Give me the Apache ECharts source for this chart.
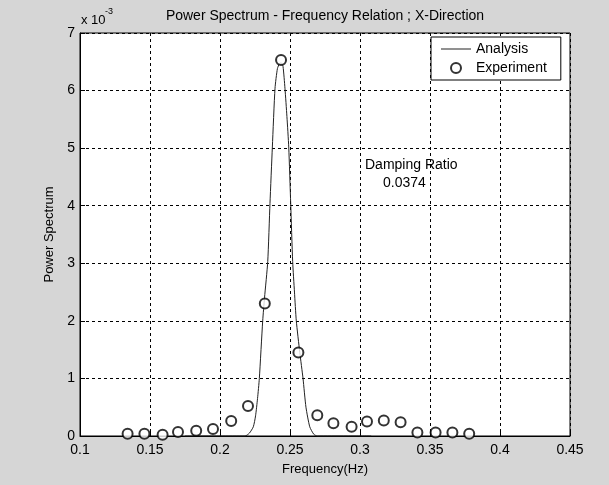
<!DOCTYPE html>
<html>
<head>
<meta charset="utf-8">
<script src="https://cdn.jsdelivr.net/npm/echarts@6/dist/echarts.min.js"></script>
<style>
  html, body { margin: 0; padding: 0; background: #d6d6d6; }
  #chart { width: 609px; height: 485px; }
</style>
</head>
<body>
<div id="chart"></div>
<script>
// analysis curve (x 10^-3)
var analysisFreq = [0.175, 0.200, 0.2179, 0.2210, 0.2238, 0.2254, 0.2268, 0.2281, 0.2305, 0.2318, 0.2341,
  0.2357, 0.2374, 0.2393, 0.2410, 0.2425, 0.2437, 0.2450, 0.2464, 0.2478, 0.2491, 0.2505, 0.2519,
  0.2532, 0.2545, 0.2570, 0.2593, 0.2614, 0.2641, 0.2670, 0.2695, 0.290, 0.308];
var analysisPower = [0, 0, 0, 0.05, 0.16, 0.35, 0.65, 1.0, 2.0, 2.4, 3.03,
  4.04, 5.02, 6.04, 6.38, 6.47, 6.48, 6.42, 6.04, 5.55, 5.02, 4.04, 3.03,
  2.5, 2.0, 1.45, 1.0, 0.5, 0.16, 0.03, 0, 0, 0];

// experiment points
var expFreq = [0.134, 0.146, 0.159, 0.170, 0.183, 0.195, 0.208, 0.220, 0.232, 0.2436, 0.256,
  0.2695, 0.281, 0.294, 0.305, 0.317, 0.329, 0.341, 0.354, 0.366, 0.378];
var expPower = [0.04, 0.04, 0.02, 0.07, 0.09, 0.12, 0.26, 0.52, 2.30, 6.53, 1.45,
  0.36, 0.22, 0.16, 0.25, 0.27, 0.24, 0.06, 0.06, 0.06, 0.04];

var xTicks = [0.1, 0.15, 0.2, 0.25, 0.3, 0.35, 0.4, 0.45];
var yTicks = [0, 1, 2, 3, 4, 5, 6, 7];

var analysisData = analysisFreq.map(function (f, i) { return [f, analysisPower[i]]; });
var expData = expFreq.map(function (f, i) { return [f, expPower[i]]; });

var font = 'Liberation Sans';
var myChart = echarts.init(document.getElementById('chart'));

var option = {
  backgroundColor: '#d6d6d6',
  animation: false,
  textStyle: { fontFamily: font, color: '#000' },
  grid: {
    left: 80, right: 39, top: 33, bottom: 49,
    show: true,
    backgroundColor: '#fff',
    borderColor: '#000',
    borderWidth: 1
  },
  legend: {
    orient: 'vertical',
    left: 431, top: 37,
    padding: [5, 14, 5, 10],
    itemGap: 5,
    itemWidth: 30, itemHeight: 10,
    backgroundColor: '#fff',
    borderColor: '#000',
    borderWidth: 1,
    textStyle: { fontFamily: font, fontSize: 14, color: '#000' },
    data: [
      { name: 'Analysis', icon: 'path://M0,0 L30,0 L30,1 L0,1 Z' },
      { name: 'Experiment', icon: 'emptyCircle' }
    ]
  },
  xAxis: {
    type: 'value',
    min: xTicks[0], max: xTicks[xTicks.length - 1], interval: 0.05,
    name: 'Frequency(Hz)',
    nameLocation: 'middle', nameGap: 27,
    nameTextStyle: { fontFamily: font, fontSize: 13, color: '#000' },
    axisLine: { lineStyle: { color: '#000' } },
    axisTick: { inside: true, length: 5, lineStyle: { color: '#000' } },
    axisLabel: {
      margin: 7, fontSize: 14, color: '#000', fontFamily: font,
      formatter: function (v) { return String(parseFloat(v.toFixed(2))); }
    },
    splitLine: { show: true, lineStyle: { color: '#000', type: [3, 3], width: 1 } }
  },
  yAxis: {
    type: 'value',
    min: yTicks[0], max: yTicks[yTicks.length - 1], interval: 1,
    name: 'Power Spectrum',
    nameLocation: 'middle', nameGap: 22,
    nameTextStyle: { fontFamily: font, fontSize: 13, color: '#000' },
    axisLine: { show: true, lineStyle: { color: '#000' } },
    axisTick: { show: true, inside: true, length: 5, lineStyle: { color: '#000' } },
    axisLabel: { margin: 5, fontSize: 14, color: '#000', fontFamily: font },
    splitLine: { show: true, lineStyle: { color: '#000', type: [3, 3], width: 1 } }
  },
  series: [
    {
      name: 'Analysis',
      type: 'line',
      data: analysisData,
      symbol: 'none',
      smooth: 0.2,
      lineStyle: { color: '#222', width: 1 },
      itemStyle: { color: '#222' },
      z: 3
    },
    {
      name: 'Experiment',
      type: 'scatter',
      data: expData,
      symbol: 'emptyCircle',
      symbolSize: 10,
      itemStyle: { color: '#000', borderColor: '#000', borderWidth: 1 },
      z: 4
    }
  ],
  graphic: [
    {
      type: 'text', x: 325, y: 16,
      style: { text: 'Power Spectrum - Frequency Relation ; X-Direction', font: '14px "Liberation Sans"', fill: '#000', align: 'center', verticalAlign: 'middle' }
    },
    {
      type: 'text', x: 81, y: 20,
      style: { text: 'x 10', font: '13px "Liberation Sans"', fill: '#000', align: 'left', verticalAlign: 'middle' }
    },
    {
      type: 'text', x: 105, y: 12,
      style: { text: '-3', font: '9px "Liberation Sans"', fill: '#000', align: 'left', verticalAlign: 'middle' }
    },
    {
      type: 'text', x: 365, y: 165,
      style: { text: 'Damping Ratio', font: '14px "Liberation Sans"', fill: '#000', align: 'left', verticalAlign: 'middle' }
    },
    {
      type: 'text', x: 383, y: 183,
      style: { text: '0.0374', font: '14px "Liberation Sans"', fill: '#000', align: 'left', verticalAlign: 'middle' }
    }
  ]
};

option && myChart.setOption(option);
</script>
</body>
</html>
